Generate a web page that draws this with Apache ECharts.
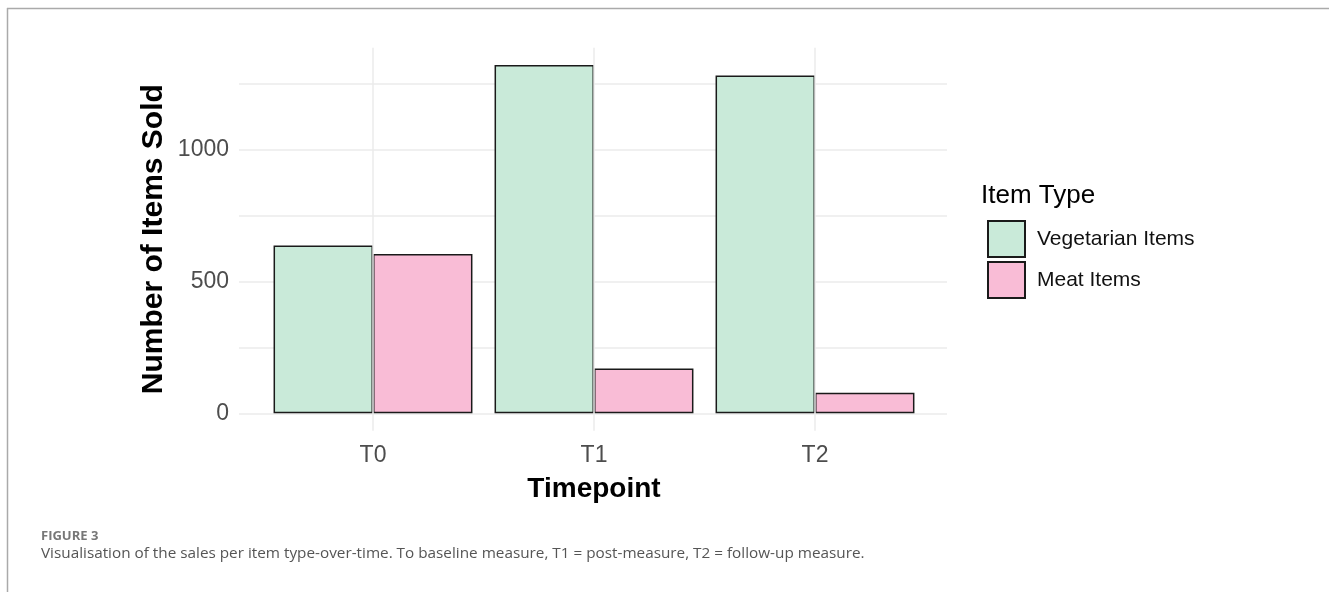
<!DOCTYPE html>
<html>
<head>
<meta charset="utf-8">
<script src="https://cdn.jsdelivr.net/npm/echarts@6/dist/echarts.min.js"></script>
<style>html,body{margin:0;padding:0;background:#fff;}#c{width:1329px;height:592px;}</style>
</head>
<body>
<div id="c"></div>
<script>
var categories = ['T0', 'T1', 'T2'];
var vegetarian = [636, 1319, 1280];
var meat = [603, 170, 78];
var seriesNames = ['Vegetarian Items', 'Meat Items'];
var yLabelTicks = [0, 500, 1000];

var chart = echarts.init(document.getElementById('c'), null, {renderer: 'canvas'});
var gridColor = '#ebebeb';
var axisFont = 'Liberation Sans, Arial, sans-serif';
var option = {
  animation: false,
  backgroundColor: '#ffffff',
  title: [
    {text: 'Item Type', left: 981, top: 183, padding: 0,
     textStyle: {fontFamily: axisFont, fontSize: 26, lineHeight: 26, fontWeight: 'normal', color: '#000'}},
    {text: 'FIGURE 3', left: 41, top: 528, padding: 0,
     textStyle: {fontFamily: 'Open Sans, sans-serif', fontSize: 13, lineHeight: 16, fontWeight: 'bold', color: '#777'}},
    {text: 'Visualisation of the sales per item type-over-time. To baseline measure, T1 = post-measure, T2 = follow-up measure.', left: 41, top: 544, padding: 0,
     textStyle: {fontFamily: 'Open Sans, sans-serif', fontSize: 15.3, lineHeight: 20, fontWeight: 'normal', color: '#555'}}
  ],
  graphic: [
    {type: 'line', shape: {x1: 7, y1: 8.5, x2: 1329, y2: 8.5}, style: {stroke: '#aaaaaa', lineWidth: 1.5}},
    {type: 'line', shape: {x1: 7.5, y1: 8, x2: 7.5, y2: 592}, style: {stroke: '#aaaaaa', lineWidth: 1.5}}
  ],
  legend: {
    orient: 'vertical', left: 987, top: 220, padding: 0,
    itemWidth: 37, itemHeight: 36, itemGap: 3,
    icon: 'rect',
    data: seriesNames,
    textStyle: {fontFamily: axisFont, fontSize: 21, color: '#111', padding: [0, 0, 0, 7]}
  },
  grid: [
    {left: 239, right: 382, top: 83.3, bottom: 178.7, containLabel: false},
    {left: 262.5, right: 403.5, top: 47.7, bottom: 161.3, containLabel: false}
  ],
  xAxis: [
    {type: 'value', gridIndex: 0, show: false, min: 0, max: 1},
    {type: 'category', gridIndex: 1, data: categories,
     axisLine: {show: false}, axisTick: {show: false}, splitLine: {show: false},
     axisLabel: {fontFamily: axisFont, fontSize: 23, color: '#4d4d4d', margin: 13},
     name: 'Timepoint', nameLocation: 'middle', nameGap: 45,
     nameTextStyle: {fontFamily: axisFont, fontSize: 28, fontWeight: 'bold', color: '#000'}}
  ],
  yAxis: [
    {type: 'value', gridIndex: 0, min: 0, max: 1250, interval: 250,
     axisLine: {show: false}, axisTick: {show: false},
     splitLine: {show: true, lineStyle: {color: gridColor, width: 1.5}},
     axisLabel: {fontFamily: axisFont, fontSize: 23, color: '#4d4d4d', margin: 10,
       formatter: function (v) { return yLabelTicks.indexOf(v) >= 0 ? String(v) : ''; }}},
    {type: 'value', gridIndex: 1, min: -66, max: 1385,
     axisLine: {show: false}, axisTick: {show: false}, axisLabel: {show: false}, splitLine: {show: false},
     name: 'Number of Items Sold', nameLocation: 'middle', nameGap: 94,
     nameTextStyle: {fontFamily: axisFont, fontSize: 30, fontWeight: 'bold', color: '#000'}}
  ],
  series: [
    {name: 'grid-v', type: 'line', xAxisIndex: 1, yAxisIndex: 1, data: [], z: 1, silent: true,
     markLine: {silent: true, symbol: ['none', 'none'], label: {show: false}, animation: false,
       lineStyle: {color: gridColor, width: 1.5, type: 'solid'},
       data: categories.map(function (c) { return {xAxis: c}; })}},
    {name: seriesNames[0], type: 'bar', xAxisIndex: 1, yAxisIndex: 1, data: vegetarian,
     barGap: '0%', barCategoryGap: '10%', z: 3,
     itemStyle: {color: '#c9ead9', borderColor: '#1a1a1a', borderWidth: 1.5}},
    {name: seriesNames[1], type: 'bar', xAxisIndex: 1, yAxisIndex: 1, data: meat,
     barGap: '0%', barCategoryGap: '10%', z: 3,
     itemStyle: {color: '#f9bcd6', borderColor: '#1a1a1a', borderWidth: 1.5}}
  ]
};
chart.setOption(option);
</script>
</body>
</html>
